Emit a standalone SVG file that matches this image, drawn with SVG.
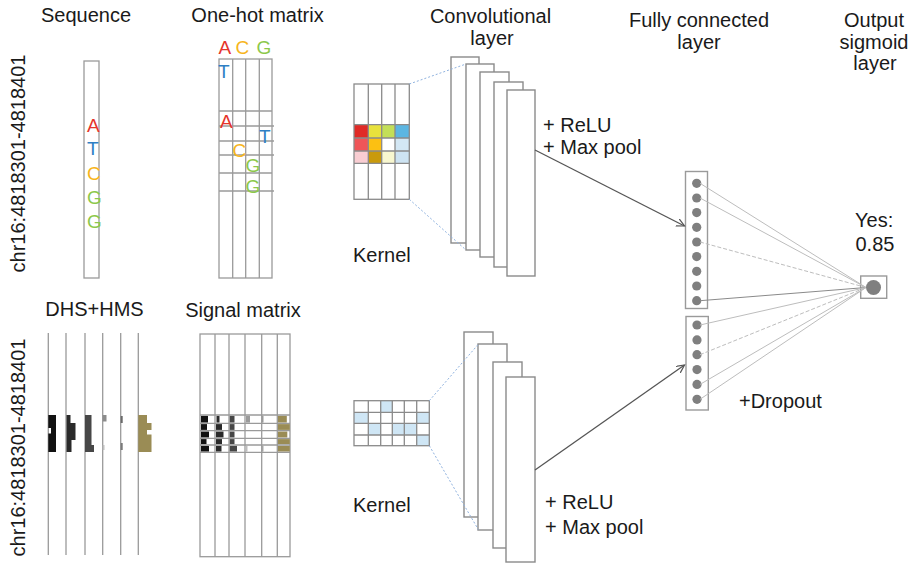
<svg xmlns="http://www.w3.org/2000/svg" width="918" height="563" viewBox="0 0 918 563">
  <defs>
    <style>
      text { font-family: "Liberation Sans", Arial, sans-serif; fill: #1a1a1a; }
      .t20 { font-size: 20px; }
      .mid { text-anchor: middle; }
      .base { font-size: 19px; }
      .A { fill: #e5352c; }
      .T { fill: #2f7fc4; }
      .C { fill: #f7b51c; }
      .G { fill: #8cc84b; }
      .grid { fill: #ffffff; stroke: #9a9a9a; stroke-width: 1.3; }
      .gl { stroke: #9a9a9a; stroke-width: 1.3; fill: none; }
      .panel { fill: #ffffff; stroke: #8a8a8a; stroke-width: 1.4; }
      .fcbox { fill: #ffffff; stroke: #9a9a9a; stroke-width: 1.4; }
      .dot { fill: #7f7f7f; }
      .kdot { stroke: #8fb2df; stroke-width: 1; stroke-dasharray: 2 2; fill: none; }
      .arrow { stroke: #555555; stroke-width: 1.3; fill: none; marker-end: url(#open); }
      .fc { stroke: #bdbdbd; stroke-width: 1; fill: none; }
      .fcd { stroke: #bdbdbd; stroke-width: 1; fill: none; stroke-dasharray: 4 2; }
      .fcs { stroke: #8a8a8a; stroke-width: 1; fill: none; }
      .sky { fill: #cfe6f5; }
    </style>
    <marker id="open" markerUnits="userSpaceOnUse" markerWidth="10" markerHeight="10" refX="8" refY="4" orient="auto">
      <path d="M0,0 L8,4 L0,8" fill="none" stroke="#555555" stroke-width="1.2"/>
    </marker>
  </defs>

  <!-- column titles -->
  <g id="titles">
    <text class="t20 mid" x="86" y="22">Sequence</text>
    <text class="t20 mid" x="257.5" y="22">One-hot matrix</text>
    <text class="t20 mid" x="490.5" y="23">Convolutional</text>
    <text class="t20 mid" x="492" y="45">layer</text>
    <text class="t20 mid" x="699" y="27">Fully connected</text>
    <text class="t20 mid" x="699" y="48.5">layer</text>
    <text class="t20 mid" x="874" y="27">Output</text>
    <text class="t20 mid" x="874" y="48.5">sigmoid</text>
    <text class="t20 mid" x="875" y="70">layer</text>
    <text class="t20 mid" x="94.5" y="316">DHS+HMS</text>
    <text class="t20 mid" x="243" y="317">Signal matrix</text>
  </g>

  <!-- genomic coordinate labels -->
  <g id="coord-top">
    <text class="t20 mid" transform="translate(25,163.5) rotate(-90)">chr16:4818301-4818401</text>
  </g>
  <g id="coord-bottom">
    <text class="t20 mid" transform="translate(25,447.5) rotate(-90)">chr16:4818301-4818401</text>
  </g>

  <!-- DNA sequence strip -->
  <g id="sequence">
    <rect class="grid" x="84" y="61" width="15" height="217"/>
    <text class="base A" x="87" y="132">A</text>
    <text class="base T" x="87" y="155">T</text>
    <text class="base C" x="87" y="180">C</text>
    <text class="base G" x="87" y="204">G</text>
    <text class="base G" x="87" y="228">G</text>
  </g>

  <!-- one-hot encoding grid -->
  <g id="onehot">
    <rect class="grid" x="219" y="59" width="53" height="219"/>
    <path class="gl" d="M232.7,59 V278 M245.7,59 V278 M259.3,59 V278 M219,111 H272 M219,126 H274 M219,141 H274 M219,155 H274 M219,173 H272 M219,191 H274"/>
    <text class="base A" x="218.5" y="54">A</text>
    <text class="base C" x="235.5" y="54">C</text>
    <text class="base G" x="256.5" y="54">G</text>
    <text class="base T" x="218" y="78">T</text>
    <text class="base A" x="220" y="128">A</text>
    <text class="base T" x="259" y="143">T</text>
    <text class="base C" x="232.5" y="157">C</text>
    <text class="base G" x="245.5" y="172">G</text>
    <text class="base G" x="245.5" y="193">G</text>
  </g>

  <!-- DHS / histone tracks -->
  <g id="tracks">
    <path class="gl" d="M48.3,333 V555 M66,333 V555 M85,333 V555 M102.7,333 V555 M120.7,333 V555 M138.3,333 V555" stroke="#b0b0b0"/>
    <path d="M48.3,415 H56 V452 H48.3 V433.5 H51 V428 H48.3 Z" fill="#111111"/>
    <path d="M66.5,415 H70.5 V423 H75.5 V440 H71.5 V452 H66.5 Z" fill="#2a2a2a"/>
    <path d="M85,415 H91.5 V445 H94 V452 H85 Z" fill="#474747"/>
    <rect x="102.7" y="415" width="3.8" height="6.5" fill="#8c8c8c"/>
    <rect x="102.7" y="445" width="1.8" height="5" fill="#c0c0c0"/>
    <rect x="120.7" y="416" width="2" height="7" fill="#6a6a6a"/>
    <rect x="120.7" y="443" width="2" height="7" fill="#7a7a7a"/>
    <path d="M138.3,415 H147 V423 H151.5 V430 H147 V434.5 H151.5 V452 H138.3 Z" fill="#9a8c55"/>
  </g>

  <!-- signal matrix -->
  <g id="signal">
    <rect class="grid" x="200" y="334" width="90" height="222.7"/>
    <g fill="#111111">
      <rect x="201" y="415.8" width="7" height="6.8"/>
      <rect x="201" y="424.1" width="6" height="5.8"/>
      <rect x="201" y="431.5" width="8" height="6"/>
      <rect x="201" y="439.1" width="5.5" height="5.1"/>
      <rect x="201" y="445.8" width="8" height="5.8"/>
    </g>
    <g fill="#2a2a2a">
      <rect x="216.5" y="415.8" width="3" height="6.8"/>
      <rect x="216" y="424.1" width="6" height="5.8"/>
      <rect x="216" y="431.5" width="7.5" height="6"/>
      <rect x="216" y="439.1" width="6" height="5.1"/>
      <rect x="216" y="445.8" width="5.5" height="5.8"/>
    </g>
    <g fill="#464646">
      <rect x="229.5" y="415.8" width="5" height="6.8"/>
      <rect x="229.5" y="424.1" width="5" height="5.8"/>
      <rect x="229.5" y="431.5" width="5" height="6"/>
      <rect x="229.5" y="439.1" width="5" height="5.1"/>
      <rect x="229.5" y="445.8" width="7.5" height="5.8"/>
    </g>
    <rect x="246" y="415.8" width="4" height="6.8" fill="#9a9a9a"/>
    <rect x="246" y="445.8" width="1.5" height="5.8" fill="#bdbdbd"/>
    <rect x="262" y="415.8" width="1.5" height="6.8" fill="#9a9a9a"/>
    <rect x="262" y="445.8" width="1.5" height="5.8" fill="#aaaaaa"/>
    <g fill="#9a8c55">
      <rect x="277.8" y="415.8" width="9" height="6.8"/>
      <rect x="277.8" y="424.1" width="12" height="5.8"/>
      <rect x="277.8" y="431.5" width="9.5" height="6"/>
      <rect x="277.8" y="439.1" width="12" height="5.1"/>
      <rect x="277.8" y="445.8" width="12" height="5.8"/>
    </g>
    <path class="gl" d="M215,334 V556.7 M229,334 V556.7 M245,334 V556.7 M261.7,334 V556.7 M277.3,334 V556.7 M200,415 H290 M200,423.3 H290 M200,430.7 H290 M200,438.3 H290 M200,445 H290 M200,452.3 H290"/>
  </g>

  <!-- sequence kernel -->
  <g id="kernel-top">
    <rect x="354" y="124.7" width="14.3" height="13.3" fill="#e02a26"/>
    <rect x="368.3" y="124.7" width="13.4" height="13.3" fill="#e8e23c"/>
    <rect x="381.7" y="124.7" width="13.3" height="13.3" fill="#c3df58"/>
    <rect x="395" y="124.7" width="14.3" height="13.3" fill="#5cb6e2"/>
    <rect x="354" y="138" width="14.3" height="13" fill="#ef5558"/>
    <rect x="368.3" y="138" width="13.4" height="13" fill="#fcc012"/>
    <rect x="395" y="138" width="14.3" height="13" fill="#d3e7f4"/>
    <rect x="354" y="151" width="14.3" height="12.3" fill="#f9cdd2"/>
    <rect x="368.3" y="151" width="13.4" height="12.3" fill="#c99a0c"/>
    <rect x="381.7" y="151" width="13.3" height="12.3" fill="#f8f7cf"/>
    <rect x="395" y="151" width="14.3" height="12.3" fill="#cde3f2"/>
    <rect x="354" y="84" width="55.3" height="115.3" fill="none" stroke="#8a8a8a" stroke-width="1.3"/>
    <path d="M368.3,84 V199.3 M381.7,84 V199.3 M395,84 V199.3 M354,124.7 H409.3 M354,138 H409.3 M354,151 H409.3 M354,163.3 H409.3" stroke="#8a8a8a" stroke-width="1.3" fill="none"/>
    <text class="t20" x="353" y="262">Kernel</text>
  </g>

  <!-- signal kernel -->
  <g id="kernel-bottom">
    <rect class="sky" x="380.7" y="400.7" width="11.6" height="11.6"/>
    <rect class="sky" x="354" y="412.3" width="14.3" height="11"/>
    <rect class="sky" x="416.7" y="412.3" width="12.6" height="11"/>
    <rect class="sky" x="368.3" y="423.3" width="12.4" height="11.7"/>
    <rect class="sky" x="392.3" y="423.3" width="24.4" height="11.7"/>
    <rect class="sky" x="416.7" y="435" width="12.6" height="10.7"/>
    <rect x="354" y="400.7" width="75.3" height="45" fill="none" stroke="#8a8a8a" stroke-width="1.3"/>
    <path d="M368.3,400.7 V445.7 M380.7,400.7 V445.7 M392.3,400.7 V445.7 M404.3,400.7 V445.7 M416.7,400.7 V445.7 M354,412.3 H429.3 M354,423.3 H429.3 M354,435 H429.3" stroke="#8a8a8a" stroke-width="1.3" fill="none"/>
    <text class="t20" x="353" y="512">Kernel</text>
  </g>

  <!-- feature maps -->
  <g id="conv-top">
    <rect class="panel" x="451" y="57" width="28" height="186"/>
    <rect class="panel" x="466" y="64" width="28" height="186"/>
    <rect class="panel" x="480" y="72" width="29" height="185"/>
    <rect class="panel" x="494" y="82" width="29" height="185"/>
    <rect class="panel" x="507" y="90" width="28" height="186"/>
    <text class="t20" x="543" y="132">+ ReLU</text>
    <text class="t20" x="543" y="154">+ Max pool</text>
  </g>
  <g id="conv-bottom">
    <rect class="panel" x="464" y="332" width="29" height="185"/>
    <rect class="panel" x="478" y="344" width="29" height="186"/>
    <rect class="panel" x="493" y="362" width="29" height="186"/>
    <rect class="panel" x="506" y="377" width="29" height="185"/>
    <text class="t20" x="545" y="509">+ ReLU</text>
    <text class="t20" x="545" y="534">+ Max pool</text>
  </g>

  <!-- dense layers -->
  <g id="fc-top">
    <rect class="fcbox" x="685.5" y="171.5" width="22" height="137"/>
    <g class="dot">
      <circle cx="696.7" cy="183.3" r="4.6"/>
      <circle cx="696.7" cy="198" r="4.6"/>
      <circle cx="696.7" cy="212.6" r="4.6"/>
      <circle cx="696.7" cy="227.3" r="4.6"/>
      <circle cx="696.7" cy="242" r="4.6"/>
      <circle cx="696.7" cy="256.6" r="4.6"/>
      <circle cx="696.7" cy="271.3" r="4.6"/>
      <circle cx="696.7" cy="286" r="4.6"/>
      <circle cx="696.7" cy="300.7" r="4.6"/>
    </g>
  </g>
  <g id="fc-bottom">
    <rect class="fcbox" x="686" y="316.5" width="22.3" height="93.5"/>
    <g class="dot">
      <circle cx="697" cy="325" r="4.6"/>
      <circle cx="697" cy="339.9" r="4.6"/>
      <circle cx="697" cy="354.7" r="4.6"/>
      <circle cx="697" cy="369.6" r="4.6"/>
      <circle cx="697" cy="384.4" r="4.6"/>
      <circle cx="697" cy="399.3" r="4.6"/>
    </g>
    <text class="t20" x="739" y="408">+Dropout</text>
  </g>
  <g id="output">
    <rect class="fcbox" x="860.7" y="276" width="26" height="22.3"/>
    <circle class="dot" cx="873.5" cy="287.5" r="7.5"/>
    <text class="t20" x="855" y="226.5">Yes:</text>
    <text class="t20" x="855.5" y="250.5">0.85</text>
  </g>

  <!-- connectors -->
  <g id="connectors">
    <path class="kdot" d="M409.3,84 L466,64 M409.3,199.3 L466,250"/>
    <path class="kdot" d="M429.3,400.7 L478.3,344.3 M429.3,445.7 L478.3,529.5"/>
    <path class="arrow" d="M535,150 L684.5,226"/>
    <path class="arrow" d="M535,470 L684.5,365"/>
    <path class="fc" d="M700,183.3 L866,287.5 M700,198 L866,287.5"/>
    <path class="fcd" d="M700,242 L866,287.5"/>
    <path class="fcs" d="M700,300.7 L866,287.5"/>
    <path class="fc" d="M700,325 L866,287.5"/>
    <path class="fcd" d="M700,354.7 L866,287.5"/>
    <path class="fc" d="M700,384.4 L866,287.5 M700,399.3 L866,287.5"/>
  </g>
</svg>
